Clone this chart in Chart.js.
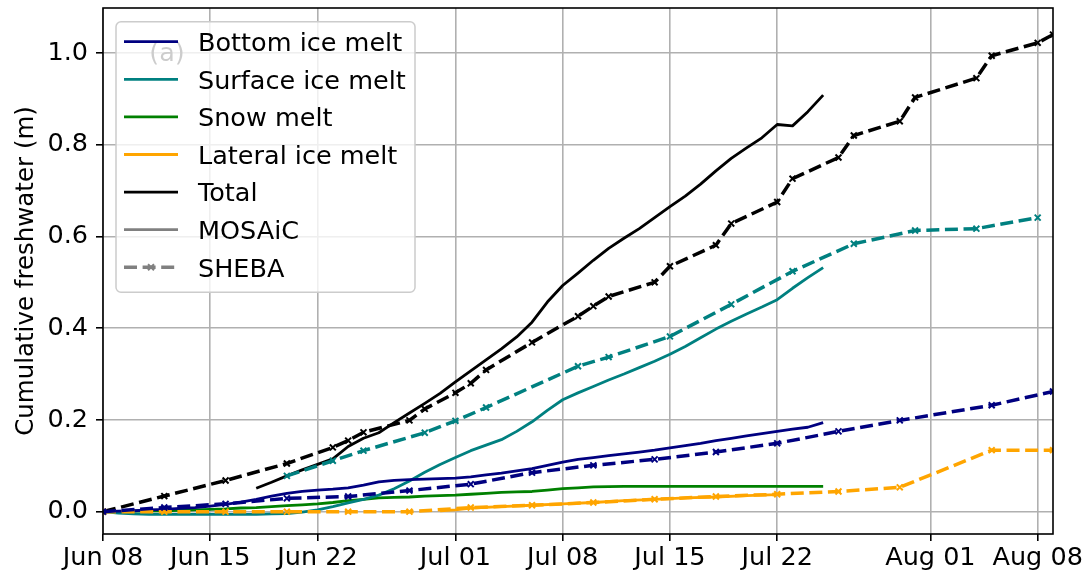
<!DOCTYPE html>
<html>
<head>
<meta charset="utf-8">
<script src="https://cdn.jsdelivr.net/npm/chart.js@4"></script>
<style>
  html, body { margin: 0; padding: 0; background: #fff; }
  canvas { display: block; }
</style>
</head>
<body>
<canvas id="c" width="1088" height="576"></canvas>
<script>
// x values are days since 8 June
const tickDays   = [0, 7, 14, 23, 30, 37, 44, 54, 61];
const tickLabels = ['Jun 08', 'Jun 15', 'Jun 22', 'Jul 01', 'Jul 08', 'Jul 15', 'Jul 22', 'Aug 01', 'Aug 08'];
const yTicks     = [0, 0.2, 0.4, 0.6, 0.8, 1.0];

// MOSAiC (daily)
const mosaicDays = [0, 1, 2, 3, 4, 5, 6, 7, 8, 9, 10, 11, 12, 13, 14, 15, 16, 17, 18, 19, 20, 21, 22, 23,
                    24, 25, 26, 27, 28, 29, 30, 31, 32, 33, 34, 35, 36, 37, 38, 39, 40, 41, 42, 43, 44, 45, 46, 47];
const mosaicBottom = [0.000, 0.001, 0.002, 0.004, 0.005, 0.007, 0.009, 0.012, 0.016, 0.021, 0.027, 0.034,
                      0.040, 0.044, 0.047, 0.049, 0.052, 0.058, 0.065, 0.068, 0.070, 0.071, 0.072, 0.073,
                      0.076, 0.080, 0.084, 0.089, 0.094, 0.101, 0.108, 0.114, 0.118, 0.122, 0.126, 0.130,
                      0.134, 0.139, 0.144, 0.149, 0.155, 0.160, 0.165, 0.170, 0.175, 0.180, 0.184, 0.194];
const mosaicSurface = [0.000, -0.003, -0.005, -0.006, -0.006, -0.006, -0.006, -0.006, -0.006, -0.006, -0.006, -0.005,
                       -0.004, -0.001, 0.004, 0.011, 0.019, 0.027, 0.036, 0.050, 0.067, 0.086, 0.103, 0.118,
                       0.133, 0.145, 0.157, 0.175, 0.196, 0.221, 0.244, 0.259, 0.273, 0.287, 0.300, 0.314,
                       0.328, 0.343, 0.360, 0.379, 0.398, 0.415, 0.431, 0.446, 0.462, 0.487, 0.510, 0.532];
const mosaicSnow = [0.000, 0.000, 0.001, 0.002, 0.002, 0.003, 0.004, 0.005, 0.006, 0.008, 0.009, 0.011,
                    0.013, 0.015, 0.017, 0.020, 0.024, 0.027, 0.030, 0.031, 0.032, 0.034, 0.035, 0.036,
                    0.038, 0.040, 0.042, 0.043, 0.044, 0.047, 0.050, 0.052, 0.054, 0.0545, 0.055, 0.055,
                    0.055, 0.055, 0.055, 0.055, 0.055, 0.055, 0.055, 0.055, 0.055, 0.055, 0.055, 0.055];
const mosaicLateralDays = [22, 23, 24, 26, 28, 30, 32, 34, 36, 38, 40, 42, 44];
const mosaicLateral     = [0.002, 0.004, 0.008, 0.011, 0.014, 0.017, 0.020, 0.024, 0.027, 0.030, 0.032, 0.035, 0.037];
const mosaicTotalDays = [10, 11, 12, 13, 14, 15, 16, 17, 18, 19, 20, 21, 22, 23, 24, 25, 26, 27, 28,
                         29, 30, 31, 32, 33, 34, 35, 36, 37, 38, 39, 40, 41, 42, 43, 44, 45, 46, 47];
const mosaicTotal = [0.051, 0.064, 0.078, 0.091, 0.103, 0.115, 0.142, 0.160, 0.172, 0.194, 0.215, 0.236, 0.258,
                     0.283, 0.307, 0.331, 0.355, 0.381, 0.413, 0.457, 0.493, 0.520, 0.548, 0.574, 0.596,
                     0.617, 0.641, 0.665, 0.688, 0.714, 0.743, 0.770, 0.793, 0.815, 0.844, 0.841, 0.872, 0.908];

// SHEBA (survey days)
const shebaBottomDays = [0, 4, 8, 12, 16, 20, 24, 28, 32, 36, 40, 44, 48, 52, 58, 62];
const shebaBottom     = [0, 0.009, 0.017, 0.029, 0.033, 0.046, 0.060, 0.085, 0.101, 0.114, 0.130, 0.149, 0.175, 0.199, 0.232, 0.262];
const shebaLateral    = [0, 0, 0, 0, 0, 0, 0.009, 0.014, 0.020, 0.027, 0.033, 0.038, 0.044, 0.053, 0.134, 0.134];
const shebaSurfaceDays = [12, 15, 17, 21, 23, 25, 31, 33, 37, 41, 45, 49, 53, 57, 61];
const shebaSurface     = [0.078, 0.111, 0.133, 0.172, 0.198, 0.227, 0.317, 0.337, 0.382, 0.452, 0.524, 0.584, 0.613, 0.617, 0.641];
const shebaTotalDays = [0, 4, 8, 12, 15, 16, 17, 20, 21, 23, 24, 25, 28, 31, 32, 33, 36, 37, 40, 41, 44, 45,
                        48, 49, 52, 53, 57, 58, 61, 62];
const shebaTotal = [0, 0.034, 0.068, 0.105, 0.140, 0.155, 0.173, 0.199, 0.224, 0.259, 0.280, 0.309, 0.369, 0.426,
                    0.448, 0.469, 0.500, 0.535, 0.581, 0.628, 0.675, 0.726, 0.772, 0.820, 0.851, 0.903, 0.945,
                    0.994, 1.022, 1.040];

const colors = { bottom: '#000080', surface: '#008080', snow: '#008000', lateral: '#ffa500', total: '#000000', ref: '#808080' };

const legendEntries = [
  { label: 'Bottom ice melt',  color: colors.bottom },
  { label: 'Surface ice melt', color: colors.surface },
  { label: 'Snow melt',        color: colors.snow },
  { label: 'Lateral ice melt', color: colors.lateral },
  { label: 'Total',            color: colors.total },
  { label: 'MOSAiC',           color: colors.ref },
  { label: 'SHEBA',            color: colors.ref, dashed: true }
];

const FONT = '"DejaVu Sans", "Liberation Sans", sans-serif';
const FONT_SIZE = 25.5;
Chart.defaults.font.family = FONT;
Chart.defaults.font.size = FONT_SIZE;
Chart.defaults.color = '#000';

const SOLID_W = 2.8, DASH_W = 3.5, DASH = [13, 5.6];

const pts = (xs, ys) => xs.map((x, i) => ({ x: x, y: ys[i] }));

function solid(label, xs, ys, color) {
  return {
    label, data: pts(xs, ys), borderColor: color, backgroundColor: color,
    borderWidth: SOLID_W, pointRadius: 0, tension: 0, fill: false,
    borderJoinStyle: 'round', borderCapStyle: 'butt', order: 1
  };
}
function dashed(label, xs, ys, color) {
  return {
    label, data: pts(xs, ys), borderColor: color, backgroundColor: color,
    borderWidth: DASH_W, borderDash: DASH, pointRadius: 4.2, pointStyle: 'crossRot',
    pointBorderWidth: 2, pointBorderColor: color, pointBackgroundColor: color,
    tension: 0, fill: false, order: 0
  };
}

const datasets = [
  solid('MOSAiC bottom', mosaicDays, mosaicBottom, colors.bottom),
  solid('MOSAiC surface', mosaicDays, mosaicSurface, colors.surface),
  solid('MOSAiC snow', mosaicDays, mosaicSnow, colors.snow),
  solid('MOSAiC lateral', mosaicLateralDays, mosaicLateral, colors.lateral),
  solid('MOSAiC total', mosaicTotalDays, mosaicTotal, colors.total),
  dashed('SHEBA bottom', shebaBottomDays, shebaBottom, colors.bottom),
  dashed('SHEBA surface', shebaSurfaceDays, shebaSurface, colors.surface),
  dashed('SHEBA lateral', shebaBottomDays, shebaLateral, colors.lateral),
  dashed('SHEBA total', shebaTotalDays, shebaTotal, colors.total)
];

function drawX(ctx, x, y, r) {
  ctx.beginPath();
  ctx.moveTo(x - r, y - r); ctx.lineTo(x + r, y + r);
  ctx.moveTo(x - r, y + r); ctx.lineTo(x + r, y - r);
  ctx.stroke();
}

// axes frame, panel tag and the key box
const decorations = {
  id: 'decorations',
  afterDatasetsDraw(chart) {
    const { ctx, chartArea: a } = chart;
    ctx.save();
    ctx.fillStyle = '#000';
    ctx.font = FONT_SIZE + 'px ' + FONT;
    ctx.textAlign = 'center';
    ctx.textBaseline = 'alphabetic';
    ctx.fillText('(a)', a.left + 64, a.top + 53);
    ctx.strokeStyle = '#000';
    ctx.lineWidth = 1.6;
    ctx.strokeRect(a.left, a.top, a.right - a.left, a.bottom - a.top);
    ctx.restore();
  },
  afterDraw(chart) {
    const { ctx, chartArea: a } = chart;
    const bx = a.left + 13, by = a.top + 13.7, bw = 299, bh = 270.6;
    ctx.save();
    ctx.beginPath();
    ctx.roundRect(bx, by, bw, bh, 5);
    ctx.fillStyle = 'rgba(255,255,255,0.8)';
    ctx.fill();
    ctx.strokeStyle = '#cccccc';
    ctx.lineWidth = 1.5;
    ctx.stroke();

    const x0 = a.left + 21, x1 = a.left + 75, tx = a.left + 95;
    legendEntries.forEach((e, i) => {
      const y = a.top + 33.7 + i * 37.6;
      ctx.strokeStyle = e.color;
      ctx.lineCap = 'butt';
      if (e.dashed) {
        ctx.lineWidth = DASH_W;
        ctx.setLineDash(DASH);
      } else {
        ctx.lineWidth = SOLID_W;
        ctx.setLineDash([]);
      }
      ctx.beginPath();
      ctx.moveTo(x0, y); ctx.lineTo(x1, y);
      ctx.stroke();
      ctx.setLineDash([]);
      if (e.dashed) {
        ctx.lineWidth = 2;
        drawX(ctx, (x0 + x1) / 2, y, 3);
      }
      ctx.fillStyle = '#000';
      ctx.font = FONT_SIZE + 'px ' + FONT;
      ctx.textAlign = 'left';
      ctx.textBaseline = 'alphabetic';
      ctx.fillText(e.label, tx, y + 9.2);
    });
    ctx.restore();
  }
};

const gridOpts = { color: '#b0b0b0', lineWidth: 1.6, tickColor: '#000', tickLength: 7, tickWidth: 1.6 };

new Chart(document.getElementById('c').getContext('2d'), {
  type: 'line',
  data: { datasets },
  options: {
    responsive: false,
    animation: false,
    devicePixelRatio: 1,
    layout: { padding: { top: 8, right: 35, left: 0, bottom: 0 } },
    plugins: { legend: { display: false }, tooltip: { enabled: false } },
    scales: {
      x: {
        type: 'linear', min: 0, max: 62,
        afterBuildTicks: s => { s.ticks = tickDays.map(v => ({ value: v })); },
        afterFit: s => { s.height = 42; s.paddingLeft = 0; s.paddingRight = 0; },
        ticks: {
          autoSkip: false, maxRotation: 0, minRotation: 0, padding: 2, color: '#000',
          callback: v => tickLabels[tickDays.indexOf(v)]
        },
        grid: gridOpts,
        border: { display: false }
      },
      y: {
        type: 'linear', min: -0.0487, max: 1.098,
        afterBuildTicks: s => { s.ticks = yTicks.map(v => ({ value: v })); },
        afterFit: s => { s.width = 103; s.paddingTop = 0; s.paddingBottom = 0; },
        ticks: { padding: 8, color: '#000', callback: v => Number(v).toFixed(1) },
        title: { display: true, text: 'Cumulative freshwater (m)', color: '#000', font: { size: 24.5 }, padding: { top: 12, bottom: 0 } },
        grid: gridOpts,
        border: { display: false }
      }
    }
  },
  plugins: [decorations]
});
</script>
</body>
</html>
